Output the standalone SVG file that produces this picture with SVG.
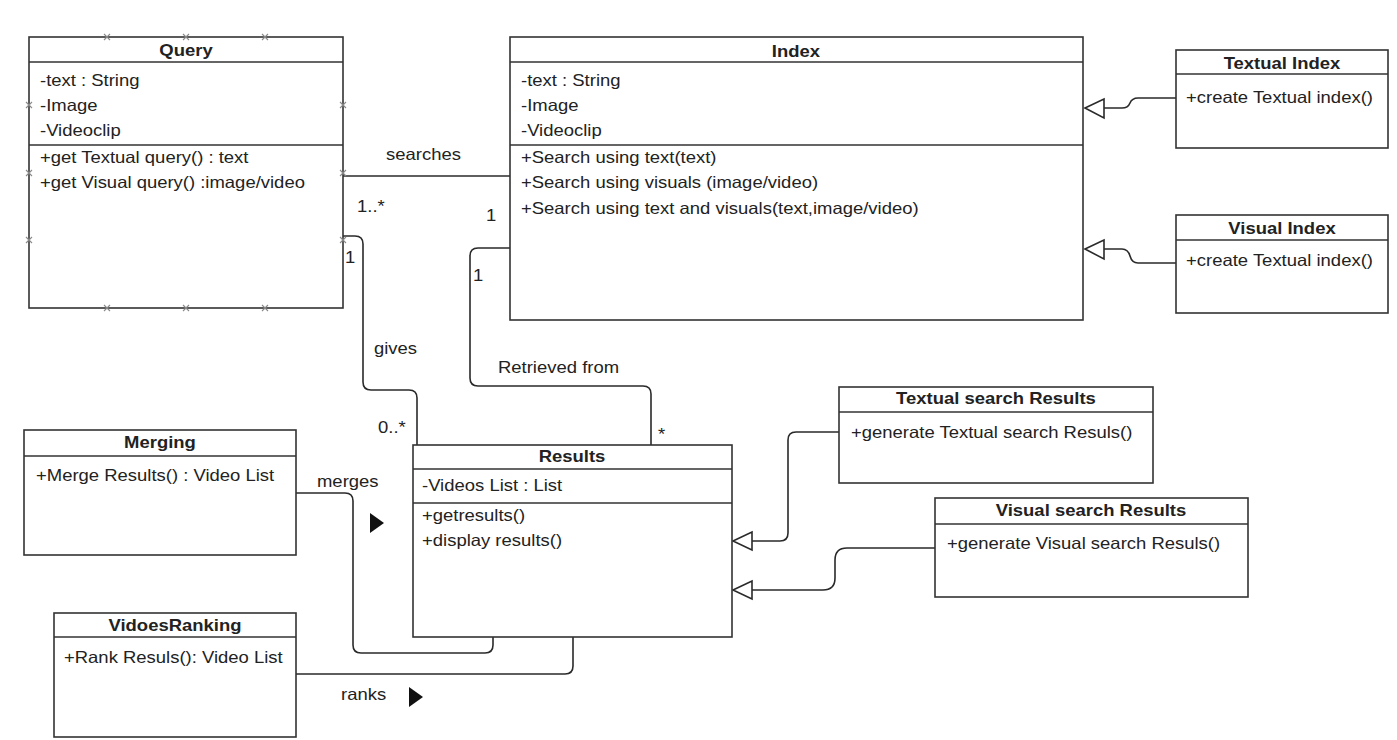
<svg xmlns="http://www.w3.org/2000/svg" width="1397" height="740" viewBox="0 0 1397 740">
  <style>
    .box { fill: #ffffff; stroke: #333333; stroke-width: 1.6; }
    .sep { stroke: #333333; stroke-width: 1.6; fill: none; }
    .edge { stroke: #2a2a2a; stroke-width: 1.6; fill: none; }
    .gen { fill: #ffffff; stroke: #2a2a2a; stroke-width: 1.6; stroke-linejoin: miter; }
    .dir { fill: #111111; stroke: none; }
    .pt { stroke: #8a8a8a; stroke-width: 1.1; fill: none; }
    text { font-family: "Liberation Sans", Arial, sans-serif; font-size: 16.5px; fill: #222222;
           transform-box: fill-box; transform: scaleX(1.12); }
    .l { transform-origin: left center; }
    .c { text-anchor: middle; font-weight: bold; transform-origin: center; }
    .lbl { transform-origin: left center; }
  </style>
  <defs>
    <path id="cp" class="pt" d="M-3,-3 L3,3 M-3,3 L3,-3"/>
  </defs>

  <rect width="1397" height="740" fill="#ffffff"/>

  <!-- connectors -->
  <g id="connectors">
    <!-- Query searches Index -->
    <path class="edge" d="M343,176 H510"/>
    <!-- Query gives Results -->
    <path class="edge" d="M343,236 H355 Q363,236 363,244 V382 Q363,390 371,390 H409 Q417,390 417,398 V445"/>
    <!-- Results retrieved from Index -->
    <path class="edge" d="M510,248 H478 Q470,248 470,256 V378 Q470,386 478,386 H643 Q651,386 651,394 V445"/>
    <!-- Merging merges Results -->
    <path class="edge" d="M296,493 H345 Q353,493 353,501 V645 Q353,653 361,653 H485 Q493,653 493,645 V637"/>
    <!-- VidoesRanking ranks Results -->
    <path class="edge" d="M296,674 H565 Q573,674 573,666 V637"/>
    <!-- Textual Index / Visual Index generalize Index -->
    <path class="edge" d="M1176,98 H1138 Q1132,98 1130,103 Q1128,108 1122,108 H1104"/>
    <polygon class="gen" points="1085,108 1104,99 1104,118"/>
    <path class="edge" d="M1176,263 H1138 Q1132,263 1130,256 Q1128,249 1122,249 H1104"/>
    <polygon class="gen" points="1085,249 1104,240 1104,259"/>
    <!-- Textual / Visual search Results generalize Results -->
    <path class="edge" d="M839,432 H796 Q788,432 788,440 V533 Q788,541 780,541 H752"/>
    <polygon class="gen" points="733,541 752,532 752,550"/>
    <path class="edge" d="M935,548 H847 Q835,548 835,560 V578 Q835,590 823,590 H752"/>
    <polygon class="gen" points="733,590 752,581 752,599"/>
    <!-- direction markers -->
    <polygon class="dir" points="370,513 384,523 370,533"/>
    <polygon class="dir" points="409,687 423,697 409,707"/>
    <!-- labels -->
    <text class="lbl" x="386" y="160">searches</text>
    <text class="lbl" x="357" y="212">1..*</text>
    <text class="lbl" x="486" y="221">1</text>
    <text class="lbl" x="345" y="263">1</text>
    <text class="lbl" x="473" y="281">1</text>
    <text class="lbl" x="374" y="354">gives</text>
    <text class="lbl" x="498" y="373">Retrieved from</text>
    <text class="lbl" x="378" y="433">0..*</text>
    <text class="lbl" x="658" y="440">*</text>
    <text class="lbl" x="317" y="487">merges</text>
    <text class="lbl" x="341" y="700">ranks</text>
  </g>

  <!-- Query -->
  <g id="query">
    <rect class="box" x="29" y="37" width="314" height="271"/>
    <path class="sep" d="M29,62 H343 M29,145 H343"/>
    <text class="c" x="186" y="56">Query</text>
    <text class="l" x="40" y="86">-text : String</text>
    <text class="l" x="40" y="111">-Image</text>
    <text class="l" x="40" y="136">-Videoclip</text>
    <text class="l" x="40" y="163">+get Textual query() : text</text>
    <text class="l" x="40" y="188">+get Visual query() :image/video</text>
    <!-- connection points -->
    <use href="#cp" x="107" y="37"/><use href="#cp" x="186" y="37"/><use href="#cp" x="265" y="37"/>
    <use href="#cp" x="107" y="308"/><use href="#cp" x="186" y="308"/><use href="#cp" x="265" y="308"/>
    <use href="#cp" x="29" y="105"/><use href="#cp" x="29" y="173"/><use href="#cp" x="29" y="240"/>
    <use href="#cp" x="343" y="105"/><use href="#cp" x="343" y="173"/><use href="#cp" x="343" y="240"/>
  </g>

  <!-- Index -->
  <g id="index">
    <rect class="box" x="510" y="37" width="573" height="283"/>
    <path class="sep" d="M510,62 H1083 M510,145 H1083"/>
    <text class="c" x="796" y="57">Index</text>
    <text class="l" x="521" y="86">-text : String</text>
    <text class="l" x="521" y="111">-Image</text>
    <text class="l" x="521" y="136">-Videoclip</text>
    <text class="l" x="521" y="163">+Search using text(text)</text>
    <text class="l" x="521" y="188">+Search using visuals (image/video)</text>
    <text class="l" x="521" y="214">+Search using text and visuals(text,image/video)</text>
  </g>

  <!-- Textual Index -->
  <g id="textual-index">
    <rect class="box" x="1176" y="50" width="212" height="98"/>
    <path class="sep" d="M1176,74 H1388"/>
    <text class="c" x="1282" y="69">Textual Index</text>
    <text class="l" x="1186" y="103">+create Textual index()</text>
  </g>

  <!-- Visual Index -->
  <g id="visual-index">
    <rect class="box" x="1176" y="215" width="212" height="98"/>
    <path class="sep" d="M1176,240 H1388"/>
    <text class="c" x="1282" y="234">Visual Index</text>
    <text class="l" x="1186" y="266">+create Textual index()</text>
  </g>

  <!-- Results -->
  <g id="results">
    <rect class="box" x="413" y="445" width="319" height="192"/>
    <path class="sep" d="M413,469 H732 M413,503 H732"/>
    <text class="c" x="572" y="462">Results</text>
    <text class="l" x="422" y="491">-Videos List : List</text>
    <text class="l" x="422" y="521">+getresults()</text>
    <text class="l" x="422" y="546">+display results()</text>
  </g>

  <!-- Textual search Results -->
  <g id="textual-search-results">
    <rect class="box" x="839" y="387" width="314" height="96"/>
    <path class="sep" d="M839,412 H1153"/>
    <text class="c" x="996" y="404">Textual search Results</text>
    <text class="l" x="851" y="438">+generate Textual search Resuls()</text>
  </g>

  <!-- Visual search Results -->
  <g id="visual-search-results">
    <rect class="box" x="935" y="498" width="313" height="99"/>
    <path class="sep" d="M935,524 H1248"/>
    <text class="c" x="1091" y="516">Visual search Results</text>
    <text class="l" x="947" y="549">+generate Visual search Resuls()</text>
  </g>

  <!-- Merging -->
  <g id="merging">
    <rect class="box" x="24" y="430" width="272" height="125"/>
    <path class="sep" d="M24,456 H296"/>
    <text class="c" x="160" y="448">Merging</text>
    <text class="l" x="36" y="481">+Merge Results() : Video List</text>
  </g>

  <!-- VidoesRanking -->
  <g id="vidoes-ranking">
    <rect class="box" x="54" y="613" width="242" height="124"/>
    <path class="sep" d="M54,637 H296"/>
    <text class="c" x="175" y="631">VidoesRanking</text>
    <text class="l" x="64" y="663">+Rank Resuls(): Video List</text>
  </g>
</svg>
